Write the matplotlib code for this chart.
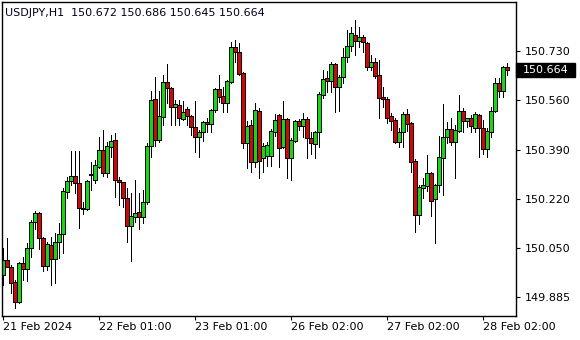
import matplotlib
matplotlib.use('Agg')
import matplotlib.pyplot as plt
from matplotlib.patches import Rectangle
import matplotlib.transforms as mtransforms

symbol = 'USDJPY,H1'

opens = [149.959, 150.011, 149.987, 149.935, 149.866, 150.000, 149.980, 150.052, 150.141, 150.172,
         150.086, 149.990, 150.062, 150.014, 150.072, 150.100, 150.245, 150.282, 150.299, 150.275,
         150.190, 150.186, 150.303, 150.285, 150.330, 150.388, 150.309, 150.399, 150.423, 150.285,
         150.278, 150.224, 150.127, 150.158, 150.175, 150.158, 150.210, 150.402, 150.563, 150.423,
         150.502, 150.622, 150.601, 150.536, 150.543, 150.495, 150.529, 150.505, 150.467, 150.433,
         150.450, 150.485, 150.478, 150.526, 150.598, 150.574, 150.550, 150.622, 150.742, 150.725,
         150.653, 150.412, 150.474, 150.347, 150.522, 150.361, 150.368, 150.368, 150.450, 150.509,
         150.399, 150.495, 150.361, 150.419, 150.488, 150.471, 150.495, 150.430, 150.409, 150.450,
         150.578, 150.636, 150.625, 150.684, 150.605, 150.639, 150.708, 150.746, 150.783, 150.763,
         150.776, 150.756, 150.673, 150.691, 150.646, 150.570, 150.563, 150.505, 150.491, 150.416,
         150.450, 150.512, 150.481, 150.351, 150.165, 150.258, 150.265, 150.309, 150.220, 150.268,
         150.361, 150.433, 150.461, 150.416, 150.454, 150.522, 150.488, 150.498, 150.464, 150.509,
         150.464, 150.392, 150.450, 150.522, 150.618, 150.591, 150.672]
highs = [150.052, 150.086, 149.993, 149.942, 150.004, 150.021, 150.069, 150.148, 150.179, 150.175,
         150.088, 150.072, 150.090, 150.103, 150.138, 150.258, 150.296, 150.385, 150.385, 150.385,
         150.210, 150.285, 150.347, 150.354, 150.433, 150.457, 150.416, 150.440, 150.447, 150.296,
         150.280, 150.258, 150.241, 150.285, 150.241, 150.251, 150.412, 150.591, 150.639, 150.591,
         150.646, 150.684, 150.605, 150.560, 150.560, 150.557, 150.536, 150.508, 150.557, 150.457,
         150.488, 150.498, 150.529, 150.601, 150.646, 150.605, 150.629, 150.759, 150.766, 150.756,
         150.655, 150.488, 150.491, 150.550, 150.533, 150.412, 150.416, 150.461, 150.512, 150.512,
         150.557, 150.498, 150.430, 150.490, 150.495, 150.515, 150.502, 150.450, 150.454, 150.588,
         150.663, 150.660, 150.691, 150.687, 150.646, 150.739, 150.800, 150.811, 150.835, 150.811,
         150.783, 150.758, 150.715, 150.704, 150.697, 150.605, 150.570, 150.515, 150.498, 150.464,
         150.519, 150.529, 150.485, 150.358, 150.268, 150.292, 150.371, 150.313, 150.270, 150.436,
         150.546, 150.485, 150.498, 150.474, 150.577, 150.533, 150.499, 150.509, 150.519, 150.512,
         150.491, 150.464, 150.536, 150.636, 150.636, 150.677, 150.686]
lows = [149.925, 149.987, 149.898, 149.846, 149.863, 149.942, 149.938, 150.021, 150.117, 150.048,
        149.973, 149.976, 149.925, 149.932, 150.018, 150.035, 150.224, 150.268, 150.241, 150.121,
        150.169, 150.183, 150.251, 150.275, 150.328, 150.299, 150.296, 150.364, 150.227, 150.200,
        150.193, 150.072, 150.007, 150.141, 150.117, 150.138, 150.203, 150.364, 150.402, 150.416,
        150.474, 150.550, 150.474, 150.474, 150.474, 150.491, 150.474, 150.440, 150.382, 150.364,
        150.419, 150.450, 150.450, 150.519, 150.553, 150.519, 150.519, 150.620, 150.691, 150.646,
        150.395, 150.327, 150.313, 150.330, 150.292, 150.313, 150.333, 150.333, 150.436, 150.330,
        150.395, 150.292, 150.285, 150.417, 150.457, 150.433, 150.361, 150.375, 150.361, 150.399,
        150.567, 150.588, 150.588, 150.519, 150.522, 150.618, 150.691, 150.728, 150.715, 150.742,
        150.725, 150.663, 150.663, 150.636, 150.498, 150.536, 150.481, 150.457, 150.412, 150.399,
        150.399, 150.454, 150.313, 150.107, 150.134, 150.224, 150.248, 150.162, 150.069, 150.244,
        150.234, 150.412, 150.406, 150.292, 150.450, 150.450, 150.467, 150.450, 150.450, 150.364,
        150.375, 150.364, 150.433, 150.519, 150.570, 150.570, 150.645]
closes = [150.011, 149.987, 149.932, 149.866, 150.000, 149.980, 150.052, 150.141, 150.172, 150.086,
          149.990, 150.065, 150.014, 150.072, 150.100, 150.248, 150.282, 150.299, 150.275, 150.189,
          150.186, 150.282, 150.306, 150.337, 150.388, 150.309, 150.402, 150.419, 150.285, 150.278,
          150.224, 150.127, 150.162, 150.172, 150.158, 150.210, 150.402, 150.560, 150.423, 150.505,
          150.622, 150.601, 150.536, 150.546, 150.498, 150.519, 150.505, 150.467, 150.433, 150.450,
          150.485, 150.478, 150.526, 150.598, 150.570, 150.550, 150.625, 150.742, 150.725, 150.649,
          150.412, 150.471, 150.347, 150.526, 150.351, 150.402, 150.406, 150.454, 150.491, 150.395,
          150.495, 150.361, 150.423, 150.488, 150.471, 150.495, 150.430, 150.412, 150.450, 150.581,
          150.632, 150.625, 150.684, 150.605, 150.639, 150.708, 150.746, 150.790, 150.763, 150.776,
          150.759, 150.673, 150.691, 150.643, 150.567, 150.563, 150.498, 150.488, 150.416, 150.450,
          150.512, 150.478, 150.347, 150.165, 150.261, 150.268, 150.309, 150.213, 150.268, 150.364,
          150.433, 150.461, 150.416, 150.457, 150.522, 150.488, 150.498, 150.471, 150.512, 150.464,
          150.392, 150.454, 150.522, 150.618, 150.591, 150.673, 150.664]

date_ticks = [0, 24, 48, 72, 96, 120]
date_labels = ['21 Feb 2024', '22 Feb 01:00', '23 Feb 01:00', '26 Feb 02:00', '27 Feb 02:00', '28 Feb 02:00']
price_ticks = [149.885, 150.050, 150.220, 150.390, 150.560, 150.730]

plt.rcParams['font.family'] = 'DejaVu Sans'
plt.rcParams['font.size'] = 8

fig = plt.figure(figsize=(5.8, 3.4), dpi=100)
ax = fig.add_axes([2 / 580, 24 / 340, 514 / 580, 314 / 340])

x = list(range(len(opens)))
bottoms = [min(o, c) for o, c in zip(opens, closes)]
heights = [abs(c - o) for o, c in zip(opens, closes)]
colors = ['#00e600' if c >= o else '#e00000' for o, c in zip(opens, closes)]

ax.vlines(x, lows, highs, color='black', linewidth=0.72, antialiased=False, zorder=1)
ax.bar(x, heights, bottom=bottoms, width=0.8, color=colors,
       edgecolor='black', linewidth=0.6, antialiased=False, zorder=2)

ax.set_xlim(-0.25, 128.25)
ax.set_ylim(149.818, 150.897)

ax.set_xticks(date_ticks)
ax.set_xticklabels(date_labels)
for lbl in ax.get_xticklabels():
    lbl.set_horizontalalignment('left')
ax.set_yticks(price_ticks)
ax.set_yticklabels(['%.3f' % p for p in price_ticks])

ax.yaxis.tick_right()
ax.tick_params(axis='y', direction='out', length=3, width=0.8, pad=3, labelsize=8)
ax.tick_params(axis='x', direction='out', length=3, width=0.8, pad=1.5, labelsize=8)
for s in ax.spines.values():
    s.set_linewidth(1.0)
    s.set_color('black')

# current price tag
last = closes[-1]
trans = mtransforms.blended_transform_factory(ax.transAxes, ax.transData)
ax.add_patch(Rectangle((1.0, last - 0.024), 59 / 514, 0.048, transform=trans,
                       facecolor='black', edgecolor='black', clip_on=False, zorder=5))
ax.text(1.0 + 7 / 514, last, '%.3f' % last, transform=trans, color='white',
        va='center', ha='left', fontsize=8, zorder=6)

fig.text(5 / 580, 1 - 12.5 / 340, '%s  %.3f %.3f %.3f %.3f' % (symbol, opens[-1], highs[-1], lows[-1], closes[-1]),
         va='center', ha='left', fontsize=8, color='#000020')

fig.savefig('out.png', dpi=100)
